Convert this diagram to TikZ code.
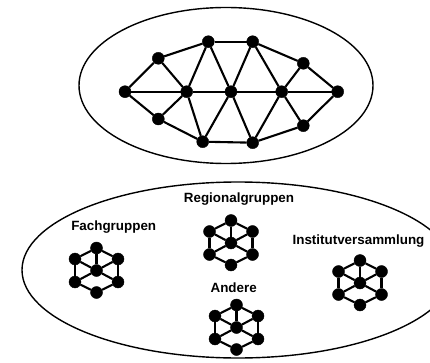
\documentclass[tikz,border=0pt]{standalone}
\usepackage{fontspec}
\setmainfont{Liberation Sans}
\begin{document}
\begin{tikzpicture}[x=1pt, y=-1pt,
    dot/.style={draw, circle, fill=black, inner sep=0pt, minimum size=12pt},
    link/.style={draw, line width=2.1pt},
    label text/.style={font=\bfseries\fontsize{13.4}{16}\selectfont, inner sep=0pt}]
        \useasboundingbox (0,0) rectangle (430,363);
        \clip (0,0) rectangle (430,363);

        % upper group
        \draw[line width=1.4pt] (226,85.5) ellipse [x radius=147pt, y radius=78pt];

        \node[dot] (l)  at (125,91.7) {};
        \node[dot] (ul) at (158.3,58.3) {};
        \node[dot] (ll) at (158.3,119) {};
        \node[dot] (c1) at (186.7,91.7) {};
        \node[dot] (t1) at (208.3,41.7) {};
        \node[dot] (t2) at (252.7,41.7) {};
        \node[dot] (c2) at (231,91.7) {};
        \node[dot] (b1) at (202.7,141.7) {};
        \node[dot] (b2) at (252.7,142.7) {};
        \node[dot] (c3) at (281.7,91.7) {};
        \node[dot] (ur) at (303.3,63.3) {};
        \node[dot] (lr) at (303.3,125.7) {};
        \node[dot] (r)  at (337.7,91.7) {};

        \path[every edge/.style={link}]
          (l) edge (ul) (l) edge (ll) (l) edge (c1)
          (c1) edge (c2) (c2) edge (c3) (c3) edge (r)
          (ul) edge (c1) (ll) edge (c1) (ul) edge (t1)
          (t1) edge (c1) (t1) edge (c2) (t1) edge (t2)
          (t2) edge (c2) (t2) edge (c3) (t2) edge (ur)
          (ur) edge (c3) (ur) edge (r)
          (lr) edge (c3) (lr) edge (r)
          (ll) edge (b1) (b1) edge (c1) (b1) edge (c2) (b1) edge (b2)
          (b2) edge (c2) (b2) edge (c3) (b2) edge (lr);

        % lower group
        \draw[line width=1.4pt] (238,270) ellipse [x radius=216pt, y radius=88pt];

        \node[label text] (fach) at (113.7,227) {Fachgruppen};
        \node[label text] (regio) at (239,199) {Regionalgruppen};
        \node[label text] (inst) at (358.5,240.7) {Institutversammlung};
        \node[label text] (andere) at (233.7,288) {Andere};

        \foreach \n/\x/\y in {fg/96.5/270.5, rg/231/243, iv/360/283, an/236.5/327.5} {
          \node[dot] (\n-c)  at (\x,\y) {};
          \node[dot] (\n-t)  at (\x,\y-22.5) {};
          \node[dot] (\n-b)  at (\x,\y+22) {};
          \node[dot] (\n-ul) at (\x-21.5,\y-11.5) {};
          \node[dot] (\n-ur) at (\x+21.5,\y-11.5) {};
          \node[dot] (\n-ll) at (\x-21.5,\y+11.5) {};
          \node[dot] (\n-lr) at (\x+21.5,\y+11.5) {};
          \path[every edge/.style={link}]
            (\n-t) edge (\n-ur) (\n-ur) edge (\n-lr) (\n-lr) edge (\n-b)
            (\n-b) edge (\n-ll) (\n-ll) edge (\n-ul) (\n-ul) edge (\n-t)
            (\n-c) edge (\n-t) (\n-c) edge (\n-ul) (\n-c) edge (\n-ur)
            (\n-c) edge (\n-ll) (\n-c) edge (\n-lr);
        }
      \end{tikzpicture}
\end{document}
